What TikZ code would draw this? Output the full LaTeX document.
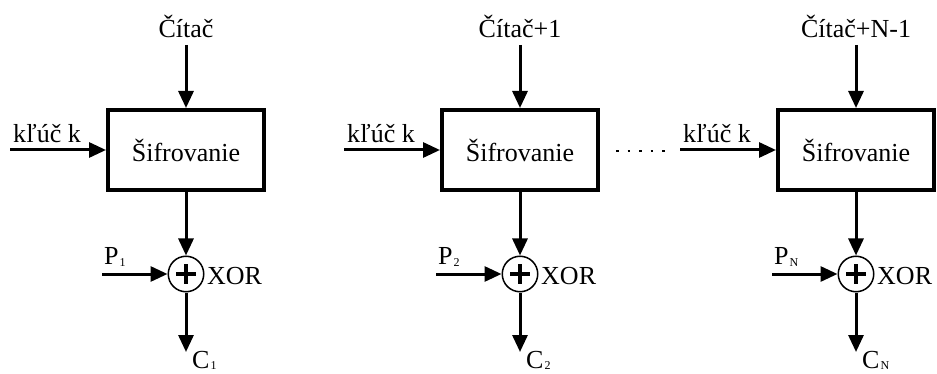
\documentclass[tikz,border=0pt]{standalone}
\usepackage{fontspec}
\setmainfont{Liberation Serif}
\usetikzlibrary{arrows.meta}
\tikzset{
  flow/.style={line width=3pt, -{Triangle[length=17pt,width=15pt]}},
  cipherbox/.style={draw, line width=4pt, minimum width=156pt, minimum height=80pt,
    inner sep=0pt, font=\fontsize{26}{30}\selectfont},
  xorgate/.style={draw, circle, line width=1.5pt, minimum size=35.5pt, inner sep=0pt},
  plusbar/.style={line width=3.5pt},
  lbl/.style={inner sep=0pt, font=\fontsize{26}{30}\selectfont},
  dotrow/.style={line width=2.5pt, dash pattern=on 2.5pt off 9pt}
}
\newcommand\idx[1]{\kern1pt\raisebox{-1.5pt}{\fontsize{12}{12}\selectfont #1}}

\begin{document}
\begin{tikzpicture}[x=1pt,y=-1pt]
\useasboundingbox (0,0) rectangle (937,374);
\foreach \i/\cx/\ctr/\sb in {1/186/Čítač/1, 2/520/Čítač+1/2, 3/856/Čítač+N-1/N} {
  % encryption block with counter and key inputs
  \node[cipherbox] (b\i) at (\cx,150) {Šifrovanie};
  \node[lbl, anchor=base] (c\i) at (\cx,38) {\ctr};
  \coordinate (ct\i) at (\cx,45);
  \draw[flow] (ct\i) -- (b\i.north);
  \coordinate (k\i) at (\cx-176,150);
  \draw[flow] (k\i) -- (b\i.west);
  \node[lbl, anchor=base west] (kl\i) at (\cx-173,143) {kľúč k};
  % XOR with plaintext block
  \node[xorgate] (x\i) at (\cx,274) {};
  \draw[plusbar] (x\i.center) +(-10,0) -- +(10,0) (x\i.center) +(0,-10) -- +(0,10);
  \draw[flow] (b\i.south) -- (x\i.north);
  \coordinate (p\i) at (\cx-84,274);
  \draw[flow] (p\i) -- (x\i.west);
  \node[lbl, anchor=base west] (pl\i) at (\cx-82,265) {P\idx{\sb}};
  \node[lbl, anchor=base west] (xl\i) at (\cx+21,284) {XOR};
  % ciphertext output
  \coordinate (o\i) at (\cx,352);
  \draw[flow] (x\i.south) -- (o\i);
  \node[lbl, anchor=base west] (ol\i) at (\cx+6,368) {C\idx{\sb}};
}
% ellipsis between the second and the last block
\coordinate (d0) at (616,151);
\coordinate (d1) at (664.5,151);
\draw[dotrow] (d0) -- (d1);
\end{tikzpicture}
\end{document}
